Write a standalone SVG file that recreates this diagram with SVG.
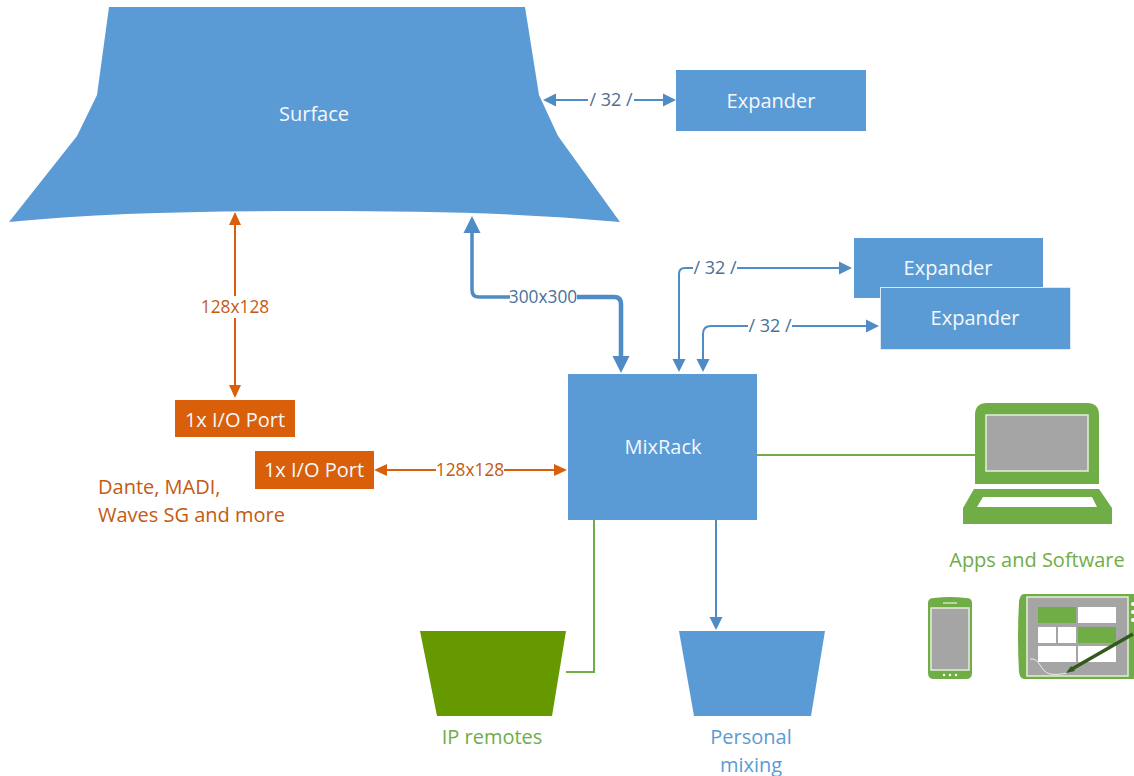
<svg xmlns="http://www.w3.org/2000/svg" width="1134" height="776" viewBox="0 0 1134 776">
<style>
text{font-family:"Open Sans","Noto Sans","Liberation Sans",sans-serif;font-size:20px;text-anchor:middle}
.w{fill:#f4f8fc}.bl{fill:#4a7199;font-size:18px}.sm{font-size:17.300px}.or{fill:#c55a11}.gt{fill:#70ad47}.bt{fill:#5b9bd5}
.b{fill:#5b9bd5}.g{fill:#70ad47}.s{fill:#a5a5a5;stroke:#e2efd9;stroke-width:1.5}.wh{fill:#fff}
.lb{fill:none;stroke:#4f8cc6;stroke-width:2}.lg{fill:none;stroke:#70ad47;stroke-width:2}.lo{fill:none;stroke:#d95f0a;stroke-width:2}
</style>
<defs>
<marker id="ab" markerUnits="userSpaceOnUse" markerWidth="14" markerHeight="14" refX="8" refY="7" orient="auto-start-reverse"><path d="M0 0.5L13 7L0 13.5Z" fill="#4f8cc6"/></marker>
<marker id="ao" markerUnits="userSpaceOnUse" markerWidth="14" markerHeight="14" refX="8" refY="7" orient="auto-start-reverse"><path d="M0 1L13 7L0 13Z" fill="#d95f0a"/></marker>
<marker id="abl" markerUnits="userSpaceOnUse" markerWidth="18" markerHeight="18" refX="8" refY="9" orient="auto-start-reverse"><path d="M0 0.500L17 9L0 17.500Z" fill="#4f8cc6"/></marker>
</defs>
<g id="connectors">
<path class="lb" marker-start="url(#ab)" d="M548 100H588"/>
<path class="lb" marker-end="url(#ab)" d="M634 100H671"/>
<path class="lo" marker-start="url(#ao)" d="M235 217V296"/>
<path class="lo" marker-end="url(#ao)" d="M235 318V393"/>
<path fill="none" stroke="#4f8cc6" stroke-width="3.500" marker-start="url(#abl)" d="M472 225V290Q472 297 479 297H510"/>
<path fill="none" stroke="#4f8cc6" stroke-width="4.500" marker-end="url(#abl)" d="M577 297H614Q621 297 621 304V364"/>
<path class="lb" marker-end="url(#ab)" d="M693 268H685Q679 268 679 274V367"/>
<path class="lb" marker-end="url(#ab)" d="M737 268H847"/>
<path class="lb" marker-end="url(#ab)" d="M748 326H711Q703 326 703 334V367"/>
<path class="lb" marker-end="url(#ab)" d="M792 326H874"/>
<path class="lo" marker-start="url(#ao)" d="M379 470H436"/>
<path class="lo" marker-end="url(#ao)" d="M504 470H562"/>
<path class="lg" d="M757 455H975"/>
<path class="lg" d="M594 520V672H566"/>
<path class="lb" marker-end="url(#ab)" d="M716 520V625"/>
</g>
<g id="surface"><path class="b" d="M109 7H525L539 95L558 136L620 222C520 213 430 211 315 211C200 211 100 213 9 222L77 136L97 95Z"/><text class="w" x="314" y="121">Surface</text></g>
<g id="expander1"><rect class="b" x="676" y="70" width="190" height="61"/><text class="w" x="771" y="108">Expander</text></g>
<g id="expander2"><rect class="b" x="854" y="238" width="189" height="60"/><text class="w" x="948" y="275">Expander</text></g>
<g id="expander3"><rect class="b" x="880.500" y="287.500" width="190" height="62" stroke="#dce9f5"/><text class="w" x="975" y="325">Expander</text></g>
<g id="mixrack"><rect class="b" x="568" y="374" width="189" height="146"/><text class="w" x="663" y="454">MixRack</text></g>
<g id="io1"><rect x="175" y="400" width="120" height="37" fill="#d95f0a"/><text class="w" x="235" y="427">1x I/O Port</text></g>
<g id="io2"><rect x="255" y="451" width="119" height="38" fill="#d95f0a"/><text class="w" x="314" y="477">1x I/O Port</text></g>
<g id="iprem"><path fill="#669900" d="M420 631H566L552 716H437Z"/></g>
<g id="personal"><path class="b" d="M679 631H825L811 716H694Z"/></g>
<g id="laptop">
<path class="g" d="M975 484V415Q975 403 987 403H1087Q1099 403 1099 415V484Z"/>
<rect class="s" x="986" y="415" width="102" height="56"/>
<path class="g" d="M974 489H1099L1112 508V524H963V508Z"/>
<path class="wh" d="M983 497H1092L1097 507H977Z"/>
</g>
<g id="phone">
<path class="g" d="M928 603Q928 598 934 598Q950 596 966 598Q972 598 972 603V673Q972 679 966 679H934Q928 679 928 673Z"/>
<rect class="s" x="931" y="608" width="38" height="62"/>
<rect class="wh" x="943" y="602.500" width="14" height="1"/>
<circle class="wh" cx="944" cy="675" r="1.200"/><circle class="wh" cx="950" cy="675" r="1.200"/><circle class="wh" cx="956" cy="675" r="1.200"/>
</g>
<g id="tablet">
<path class="g" d="M1024 594H1134V679H1024Q1020 679 1019 672Q1017 637 1019 602Q1020 594 1024 594Z"/>
<rect class="s" x="1027" y="597" width="101" height="79"/>
<rect class="g" x="1038" y="607" width="38" height="16"/><rect class="wh" x="1078" y="607" width="38" height="16"/>
<rect class="wh" x="1038" y="627" width="18" height="16"/><rect class="wh" x="1058" y="627" width="18" height="16"/><rect class="g" x="1078" y="627" width="38" height="16"/>
<rect class="wh" x="1038" y="646" width="38" height="16"/><rect class="wh" x="1078" y="646" width="38" height="16"/>
<circle class="wh" cx="1133" cy="604" r="2"/><circle class="wh" cx="1133" cy="612" r="2"/><circle class="wh" cx="1133" cy="620" r="2"/>
<path fill="none" stroke="#e8f2e0" stroke-width="1" d="M1030 659C1040 657 1040 672 1050 674C1056 675 1062 674 1067 673"/>
<path fill="none" stroke="#33591f" stroke-width="3.500" d="M1072 669L1133 634"/>
<path fill="#33591f" d="M1066 673L1071 666L1075 671Z"/>
</g>
<g id="labels">
<text class="bl" x="611" y="106">/ 32 /</text>
<text class="or sm" x="235" y="313">128x128</text>
<text class="bl sm" x="543" y="303">300x300</text>
<text class="bl" x="715" y="274">/ 32 /</text>
<text class="bl" x="770" y="332">/ 32 /</text>
<text class="or sm" x="470" y="476">128x128</text>
<text x="98" y="494" class="or" style="text-anchor:start">Dante, MADI,</text>
<text x="98" y="522" class="or" style="text-anchor:start">Waves SG and more</text>
<text class="gt" x="1037" y="567">Apps and Software</text>
<text class="gt" x="492" y="744">IP remotes</text>
<text class="bt" x="751" y="744">Personal</text>
<text class="bt" x="751" y="772">mixing</text>
</g>
</svg>
